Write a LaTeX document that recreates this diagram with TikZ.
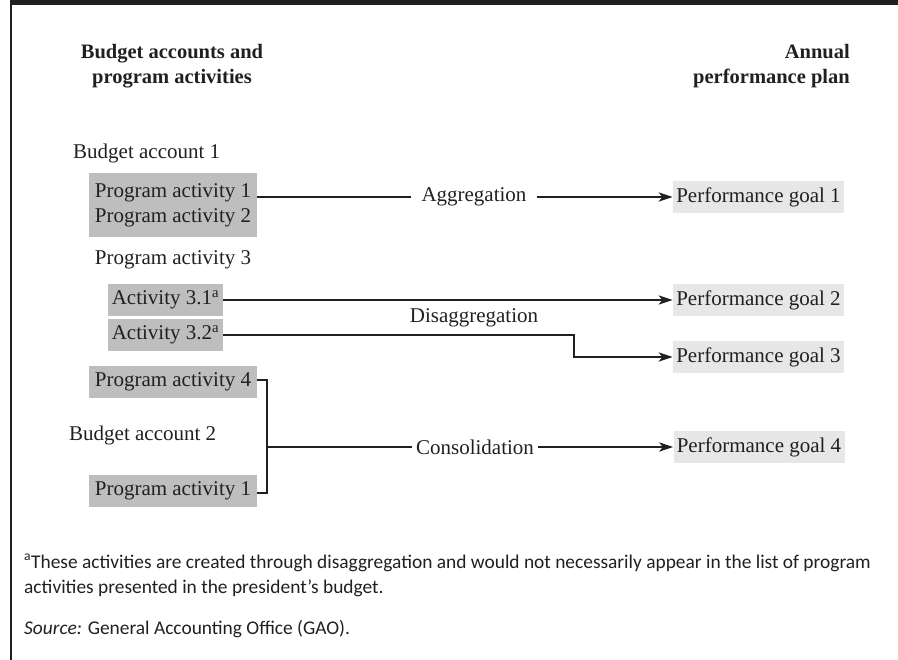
\documentclass[tikz,border=0pt]{standalone}
\usepackage{fontspec}
\setmainfont{Liberation Serif}
\newfontfamily\notefont{Carlito}
\usetikzlibrary{arrows.meta}
\definecolor{ink}{HTML}{231F20}
\definecolor{boxdark}{HTML}{BEBEBE}
\definecolor{boxlight}{HTML}{E6E7E6}
\begin{document}
\begin{tikzpicture}[x=1pt,y=-1pt,
  txt/.style={text=ink, inner sep=0pt, font=\fontsize{21}{25}\selectfont},
  head/.style={txt, font=\fontsize{20.5}{25}\selectfont\bfseries},
  srcbox/.style={txt, fill=boxdark, minimum width=168pt, minimum height=32pt},
  actbox/.style={txt, fill=boxdark, minimum width=115pt, minimum height=32pt},
  goalbox/.style={txt, fill=boxlight, minimum width=171pt, minimum height=32pt},
  flowlabel/.style={txt, inner xsep=10pt},
  conn/.style={draw=ink, line width=2.2pt},
  arr/.style={conn, -{Stealth[length=14pt,width=9pt,inset=3.5pt]}},
  note/.style={text=ink, inner sep=0pt, font=\notefont\fontsize{19.4}{25}\selectfont}]
\useasboundingbox (0,0) rectangle (898,660);
% frame: top bar and left rule
\fill[ink] (10,0) rectangle (898,4.7);
\fill[ink] (10,0) rectangle (12.3,660);

% column headings
\node[head, align=center] (hl) at (172,66) {Budget accounts and\\program activities};
\node[head, align=right, anchor=east] (hr) at (850,66) {Annual\\performance plan};

% aggregation
\node[txt, anchor=west] (ba1) at (73,153) {Budget account 1};
\node[srcbox, align=center, minimum height=64pt] (pa12) at (173,205) {Program activity 1\\Program activity 2};
\node[goalbox] (pg1) at (758.5,197) {Performance goal 1};
\node[flowlabel] (agg) at (474,197) {Aggregation};
\draw[conn] (pa12.east |- agg) -- (agg.west);
\draw[arr] (agg.east) -- (pg1.west);

% disaggregation
\node[txt] (pa3) at (173,260) {Program activity 3};
\node[actbox] (a31) at (165.5,300) {Activity 3.1\textsuperscript{a}};
\node[actbox] (a32) at (165.5,335) {Activity 3.2\textsuperscript{a}};
\node[goalbox] (pg2) at (758.5,300) {Performance goal 2};
\node[goalbox] (pg3) at (758.5,357) {Performance goal 3};
\node[txt] (dis) at (474,318) {Disaggregation};
\coordinate (bend) at (574,335);
\draw[arr] (a31.east) -- (pg2.west);
\draw[arr] (a32.east) -- (bend) |- (pg3.west);

% consolidation
\node[srcbox] (pa4) at (173,382) {Program activity 4};
\node[txt, anchor=west] (ba2) at (69,435) {Budget account 2};
\node[srcbox] (pa1) at (173,491) {Program activity 1};
\node[goalbox] (pg4) at (759,447) {Performance goal 4};
\node[flowlabel, inner xsep=3.5pt] (con) at (475,447) {Consolidation};
\coordinate (jt) at (267,380);
\coordinate (jb) at (267,493);
\coordinate (jm) at (267,447);
\draw[conn] (pa4.east |- jt) -- (jt) -- (jb) -- (pa1.east |- jb);
\draw[conn] (jm) -- (con.west);
\draw[arr] (con.east) -- (pg4.west);

% notes
\node[note, anchor=west, align=left] (fn) at (24,575.5) {\textsuperscript{a}These activities are created through disaggregation and would not necessarily appear in the list of program\\activities presented in the president’s budget.};
\node[note, anchor=west] (src) at (24,629) {\itshape Source:\upshape{} General Accounting Office (GAO).};
\end{tikzpicture}
\end{document}
